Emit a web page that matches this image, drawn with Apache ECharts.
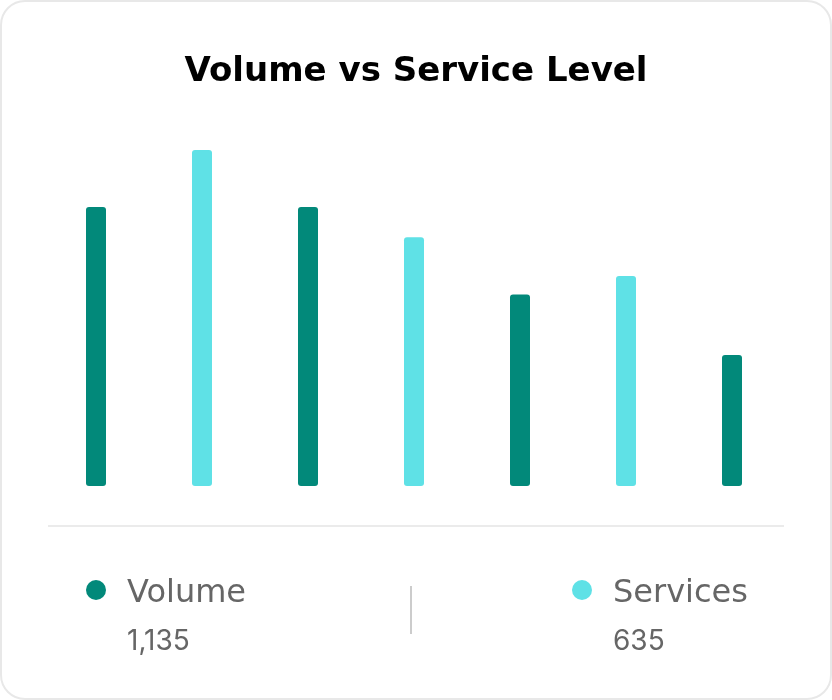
<!DOCTYPE html>
<html>
<head>
<meta charset="utf-8">
<script src="https://cdn.jsdelivr.net/npm/echarts@6/dist/echarts.min.js"></script>
<style>
html,body{margin:0;padding:0;background:#fff;}
#chart{width:832px;height:700px;}
</style>
</head>
<body>
<div id="chart"></div>
<script>
const titleText = 'Volume vs Service Level';
const categories = ['1', '2', '3', '4', '5', '6', '7'];
const volumeValues = [83, '-', 83, '-', 57, '-', 39];
const servicesValues = ['-', 100, '-', 74, '-', 62.5, '-'];
const seriesNames = ['Volume', 'Services'];
const seriesTotals = ['1,135', '635'];
const colors = ['#02897a', '#5fe1e6'];

const chart = echarts.init(document.getElementById('chart'), null, {renderer: 'canvas'});
const labelFont = 'DejaVu Sans, sans-serif';

chart.setOption({
  animation: false,
  title: {
    text: titleText,
    left: 'center',
    top: 50,
    textStyle: {fontFamily: 'DejaVu Sans, sans-serif', fontWeight: 'bold', fontSize: 34, color: '#000'}
  },
  grid: {left: 43, right: 47, top: 150, bottom: 214},
  xAxis: {
    type: 'category',
    data: categories,
    show: false,
    boundaryGap: true
  },
  yAxis: {type: 'value', min: 0, max: 100, show: false},
  series: [
    {name: seriesNames[0], type: 'bar', data: volumeValues, barWidth: 20, barGap: '-100%',
     itemStyle: {color: colors[0], borderRadius: 3}},
    {name: seriesNames[1], type: 'bar', data: servicesValues, barWidth: 20, barGap: '-100%',
     itemStyle: {color: colors[1], borderRadius: 3}}
  ],
  graphic: [
    {type: 'rect', shape: {x: 1, y: 1, width: 830, height: 698, r: 24}, style: {fill: 'none', stroke: '#e8e8e8', lineWidth: 2}, z: -1},
    {type: 'line', shape: {x1: 48, y1: 526, x2: 784, y2: 526}, style: {stroke: '#ebebeb', lineWidth: 2}},
    {type: 'line', shape: {x1: 411, y1: 586, x2: 411, y2: 634}, style: {stroke: '#cccccc', lineWidth: 2}},
    {type: 'circle', shape: {cx: 96, cy: 590, r: 10}, style: {fill: colors[0]}},
    {type: 'text', x: 127, y: 594, style: {text: seriesNames[0], font: '32px ' + labelFont, fill: '#666', textVerticalAlign: 'middle'}},
    {type: 'text', x: 127, y: 642, style: {text: seriesTotals[0], font: '28px Inter, sans-serif', fill: '#666', textVerticalAlign: 'middle'}},
    {type: 'circle', shape: {cx: 582, cy: 590, r: 10}, style: {fill: colors[1]}},
    {type: 'text', x: 613, y: 594, style: {text: seriesNames[1], font: '32px ' + labelFont, fill: '#666', textVerticalAlign: 'middle'}},
    {type: 'text', x: 613, y: 642, style: {text: seriesTotals[1], font: '28px Inter, sans-serif', fill: '#666', textVerticalAlign: 'middle'}}
  ]
});
</script>
</body>
</html>
